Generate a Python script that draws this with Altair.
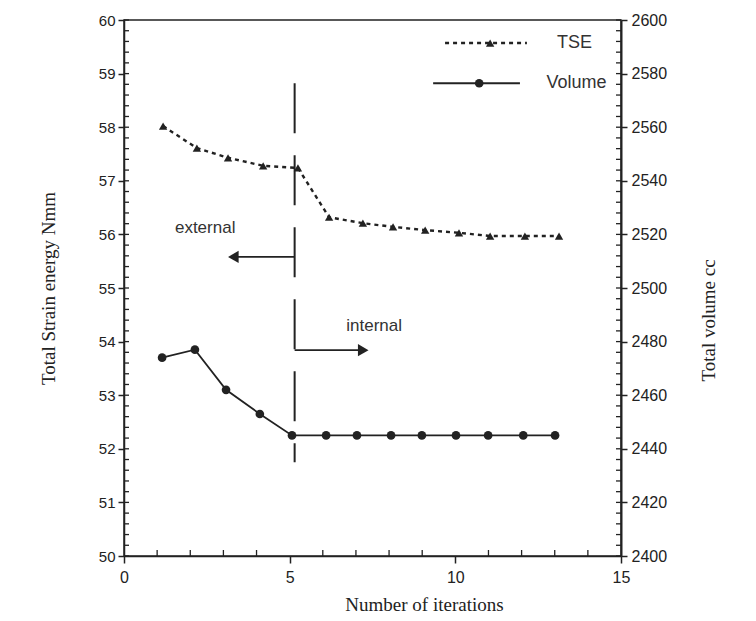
import altair as alt
import pandas as pd

# ---- data ----
iter_tse = [1.18, 2.2, 3.14, 4.2, 5.25, 6.19, 7.21, 8.12, 9.09, 10.11, 11.05, 12.1, 13.13]
tse = [58.02, 57.61, 57.43, 57.28, 57.24, 56.32, 56.21, 56.14, 56.08, 56.03, 55.97, 55.97, 55.97]
iter_vol = [1.15, 2.14, 3.08, 4.10, 5.07, 6.10, 7.03, 8.06, 8.99, 10.02, 10.99, 12.05, 13.01]
volume = [2474, 2477, 2462, 2453, 2445, 2445, 2445, 2445, 2445, 2445, 2445, 2445, 2445]

x_ticks = [0, 5, 10, 15]
y_left_ticks = [50, 51, 52, 53, 54, 55, 56, 57, 58, 59, 60]
y_right_ticks = [2400, 2420, 2440, 2460, 2480, 2500, 2520, 2540, 2560, 2580, 2600]
minor_x = [1, 2, 3, 4, 6, 7, 8, 9, 11, 12, 13, 14]
minor_left = [round(50 + 0.2 * i, 2) for i in range(51)]
minor_right = [2400 + 4 * i for i in range(51)]

# annotations (data coordinates, left scale)
split_x = [5.15]
split_y = [58.82]
split_y2 = [51.75]
arrow_labels = ["external", "internal"]
arrow_y = [55.58, 53.84]
arrow_end = [3.3, 7.22]
arrow_shape = ["triangle-left", "triangle-right"]
label_x = [2.45, 7.55]
label_y = [56.12, 54.29]

legend_names = ["TSE", "Volume"]
legend_y = [59.57, 58.82]
legend_x1 = [9.69, 9.33]
legend_x2 = [12.16, 11.95]
legend_marker_x = [11.05, 10.72]
legend_text_x = [13.07, 12.75]

W, H = 497, 536
INK = "#222222"
SANS = "Liberation Sans"
SERIF = "Liberation Serif"

xs = alt.Scale(domain=[0, 15], nice=False, zero=False)
yl = alt.Scale(domain=[50, 60], nice=False, zero=False)
yr = alt.Scale(domain=[2400, 2600], nice=False, zero=False)

df_tse = pd.DataFrame({"it": iter_tse, "tse": tse})
df_vol = pd.DataFrame({"it": iter_vol, "vol": volume})

x_axis = alt.Axis(values=x_ticks, title="Number of iterations", titleFont=SERIF, titleFontSize=19,
                  titleFontWeight="normal", titleColor=INK, labelFont=SANS, labelFontSize=16,
                  labelColor=INK, tickSize=7, tickColor=INK, tickWidth=1.5, domainColor=INK,
                  domainWidth=1.5, grid=False, labelPadding=6, titlePadding=10, titleX=300,
                  titleAlign="center", labelFlush=False, orient="bottom", format="d")
yl_axis = alt.Axis(values=y_left_ticks, orient="left", title="Total Strain energy Nmm", titleFont=SERIF,
                   titleFontSize=19, titleFontWeight="normal", titleColor=INK, labelFont=SANS,
                   labelFontSize=15, labelColor=INK, tickSize=6, tickColor=INK, tickWidth=1.5,
                   domainColor=INK, domainWidth=1.5, grid=False, labelPadding=3, titlePadding=40,
                   format="d")
yr_axis = alt.Axis(values=y_right_ticks, orient="right", title="Total volume  cc", titleFont=SERIF,
                   titleFontSize=19, titleFontWeight="normal", titleColor=INK, labelFont=SANS,
                   labelFontSize=16, labelColor=INK, tickSize=6, tickColor=INK, tickWidth=1.5,
                   domainColor=INK, domainWidth=2, grid=False, labelPadding=4, titlePadding=52,
                   titleAngle=270, titleY=300, format="d")

tse_line = alt.Chart(df_tse).mark_line(color=INK, strokeWidth=2.4, strokeDash=[4, 4]).encode(
    x=alt.X("it:Q", scale=xs, axis=x_axis),
    y=alt.Y("tse:Q", scale=yl, axis=yl_axis),
)
tse_pts = alt.Chart(df_tse).mark_point(shape="triangle-up", filled=True, size=70, color=INK, opacity=1).encode(
    x=alt.X("it:Q", scale=xs, axis=None),
    y=alt.Y("tse:Q", scale=yl, axis=None),
)
vol_line = alt.Chart(df_vol).mark_line(color=INK, strokeWidth=1.8).encode(
    x=alt.X("it:Q", scale=xs, axis=None),
    y=alt.Y("vol:Q", scale=yr, axis=yr_axis),
)
vol_pts = alt.Chart(df_vol).mark_point(shape="circle", filled=True, size=75, color=INK, opacity=1).encode(
    x=alt.X("it:Q", scale=xs, axis=None),
    y=alt.Y("vol:Q", scale=yr, axis=None),
)

minor_l = alt.Chart(pd.DataFrame({"v": minor_left})).mark_rule(color=INK, strokeWidth=1.3).encode(
    y=alt.Y("v:Q", scale=yl, axis=None), x=alt.value(0), x2=alt.value(5)
)
minor_r = alt.Chart(pd.DataFrame({"v": minor_right})).mark_rule(color=INK, strokeWidth=1.3).encode(
    y=alt.Y("v:Q", scale=yr, axis=None), x=alt.value(W - 5), x2=alt.value(W)
)
minor_b = alt.Chart(pd.DataFrame({"v": minor_x})).mark_rule(color=INK, strokeWidth=1.3).encode(
    x=alt.X("v:Q", scale=xs, axis=None), y=alt.value(H), y2=alt.value(H - 6)
)

split = alt.Chart(pd.DataFrame({"x": split_x, "y": split_y, "y2": split_y2})).mark_rule(
    color=INK, strokeWidth=2, strokeDash=[50, 22]).encode(
    x=alt.X("x:Q", scale=xs, axis=None), y=alt.Y("y:Q", scale=yl, axis=None), y2="y2:Q"
)

df_arrow = pd.DataFrame({"name": arrow_labels, "y": arrow_y, "x0": split_x * 2, "x1": arrow_end,
                         "shape": arrow_shape, "lx": label_x, "ly": label_y})
arrow_lines = alt.Chart(df_arrow).mark_rule(color=INK, strokeWidth=1.8).encode(
    x=alt.X("x0:Q", scale=xs, axis=None), x2="x1:Q", y=alt.Y("y:Q", scale=yl, axis=None)
)
arrow_heads = alt.Chart(df_arrow).mark_point(filled=True, size=150, color=INK, opacity=1).encode(
    x=alt.X("x1:Q", scale=xs, axis=None), y=alt.Y("y:Q", scale=yl, axis=None),
    shape=alt.Shape("shape:N", scale=None, legend=None)
)
arrow_text = alt.Chart(df_arrow).mark_text(font=SANS, fontSize=17, color="#333333", align="center",
                                           baseline="middle").encode(
    x=alt.X("lx:Q", scale=xs, axis=None), y=alt.Y("ly:Q", scale=yl, axis=None), text="name:N"
)

df_leg = pd.DataFrame({"name": legend_names, "y": legend_y, "x1": legend_x1, "x2": legend_x2,
                       "mx": legend_marker_x, "tx": legend_text_x})
leg_tse_line = alt.Chart(df_leg.iloc[[0]]).mark_rule(color=INK, strokeWidth=2.4, strokeDash=[4, 4]).encode(
    x=alt.X("x1:Q", scale=xs, axis=None), x2="x2:Q", y=alt.Y("y:Q", scale=yl, axis=None)
)
leg_vol_line = alt.Chart(df_leg.iloc[[1]]).mark_rule(color=INK, strokeWidth=1.8).encode(
    x=alt.X("x1:Q", scale=xs, axis=None), x2="x2:Q", y=alt.Y("y:Q", scale=yl, axis=None)
)
leg_tse_mark = alt.Chart(df_leg.iloc[[0]]).mark_point(shape="triangle-up", filled=True, size=70,
                                                      color=INK, opacity=1).encode(
    x=alt.X("mx:Q", scale=xs, axis=None), y=alt.Y("y:Q", scale=yl, axis=None)
)
leg_vol_mark = alt.Chart(df_leg.iloc[[1]]).mark_point(shape="circle", filled=True, size=75,
                                                      color=INK, opacity=1).encode(
    x=alt.X("mx:Q", scale=xs, axis=None), y=alt.Y("y:Q", scale=yl, axis=None)
)
leg_text = alt.Chart(df_leg).mark_text(font=SANS, fontSize=18, color="#333333", align="left",
                                       baseline="middle").encode(
    x=alt.X("tx:Q", scale=xs, axis=None), y=alt.Y("y:Q", scale=yl, axis=None), text="name:N"
)

# Flat layer: every scale has an explicit domain, so independent scales still line up.
chart = alt.layer(
    tse_line, vol_line, tse_pts, vol_pts,
    minor_l, minor_r, minor_b, split, arrow_lines, arrow_heads, arrow_text,
    leg_tse_line, leg_vol_line, leg_tse_mark, leg_vol_mark, leg_text,
).resolve_scale(x="independent", y="independent").properties(
    width=W, height=H,
    autosize=alt.AutoSizeParams(type="none"),
    padding={"left": 116, "top": 12, "right": 120, "bottom": 60},
    background="white",
).configure_view(stroke=INK, strokeWidth=1.5)

chart.save("out.html", embed_options={"renderer": "svg", "actions": False})
